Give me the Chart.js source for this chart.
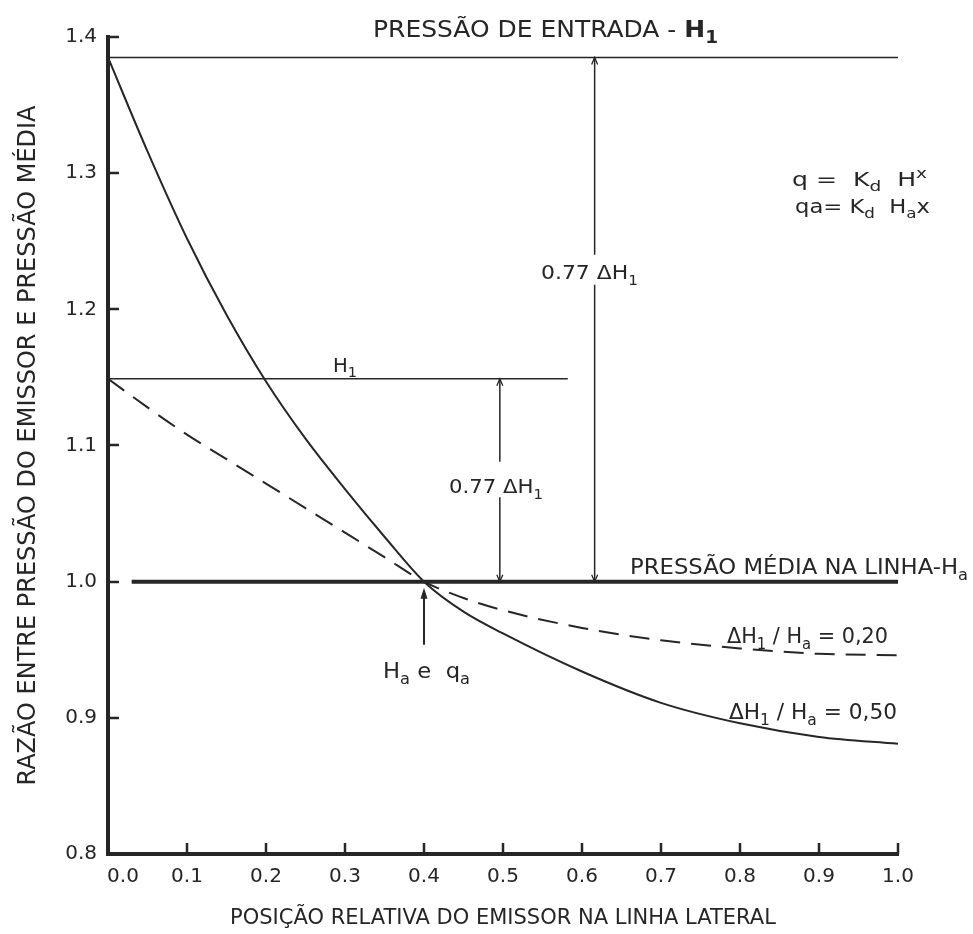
<!DOCTYPE html>
<html>
<head>
<meta charset="utf-8">
<title>Razão de pressão ao longo da linha lateral</title>
<script src="https://cdn.jsdelivr.net/npm/chart.js@4.4.1/dist/chart.umd.min.js"></script>
<style>
  html, body { margin: 0; padding: 0; background: #fff; }
  #wrap { width: 973px; height: 934px; }
</style>
</head>
<body>
<div id="wrap"><canvas id="chart" width="973" height="934"></canvas></div>
<script>
// relative position of the emitter along the lateral line
const positions = [0.0, 0.05, 0.1, 0.15, 0.2, 0.25, 0.3, 0.35, 0.4, 0.45, 0.5, 0.6, 0.7, 0.8, 0.9, 1.0];
// ratio emitter pressure / mean pressure
const ratioDH050 = [1.385, 1.316, 1.252, 1.196, 1.147, 1.105, 1.068, 1.033, 1.0, 0.978, 0.962, 0.934, 0.911, 0.896, 0.886, 0.881];
const ratioDH020 = [1.149, 1.128, 1.108, 1.090, 1.072, 1.054, 1.036, 1.018, 1.0, 0.988, 0.979, 0.966, 0.957, 0.951, 0.947, 0.946];

// reference lines
const inletX = [0.0, 1.0];      // pressão de entrada
const inletY = [1.385, 1.385];
const h1X = [0.0, 0.582];       // H1 for dH/Ha = 0.20
const h1Y = [1.149, 1.149];
const meanX = [0.03, 1.0];      // pressão média
const meanY = [1.0, 1.0];

// 0.77 dH1 dimension lines (null = gap for the label)
const dimBigX = [0.616, 0.616, 0.616, 0.616, 0.616];
const dimBigY = [1.385, 1.240, null, 1.218, 1.0];
const dimSmallX = [0.496, 0.496, 0.496, 0.496, 0.496];
const dimSmallY = [1.149, 1.088, null, 1.062, 1.0];

// axis ticks
const xTicks = [0.0, 0.1, 0.2, 0.3, 0.4, 0.5, 0.6, 0.7, 0.8, 0.9, 1.0];
const yTicks = [0.8, 0.9, 1.0, 1.1, 1.2, 1.3, 1.4];
const meanPointX = 0.4;

const INK = '#262626';
const FONT = "'DejaVu Sans', sans-serif";

function pts(xs, ys) {
    return xs.map((x, i) => ({ x: x, y: ys[i] }));
}

function lineSet(data, width, extra) {
    return Object.assign({
        data: data,
        borderColor: INK,
        borderWidth: width,
        pointRadius: 0,
        fill: false,
        tension: 0,
        spanGaps: false
    }, extra || {});
}

// draw a string made of normal / sub / sup parts, squeezed to a target width
function drawRich(ctx, segs, x, baseline, size, width) {
    const fontOf = (s) => (s.b ? 'bold ' : '') + Math.round((s.sub || s.sup) ? size * 0.72 : size) + 'px ' + FONT;
    let w = 0;
    segs.forEach(s => { ctx.font = fontOf(s); w += ctx.measureText(s.t).width; });
    const sx = width ? width / w : 1;
    ctx.save();
    ctx.translate(x, baseline);
    ctx.scale(sx, 1);
    ctx.fillStyle = INK;
    ctx.textAlign = 'left';
    ctx.textBaseline = 'alphabetic';
    let cx = 0;
    segs.forEach(s => {
        ctx.font = fontOf(s);
        let dy = 0;
        if (s.sub) dy = size * 0.28;
        if (s.sup) dy = -size * 0.42;
        ctx.fillText(s.t, cx, dy);
        cx += ctx.measureText(s.t).width;
    });
    ctx.restore();
}

const labels = [
    { segs: [{ t: 'PRESSÃO DE ENTRADA - ' }, { t: 'H', b: true }, { t: '1', sub: true, b: true }], x: 373, y: 37, size: 23, w: 345 },
    { segs: [{ t: '0.77 ΔH' }, { t: '1', sub: true }], x: 541, y: 279, size: 20, w: 97 },
    { segs: [{ t: '0.77 ΔH' }, { t: '1', sub: true }], x: 449, y: 493, size: 20, w: 94 },
    { segs: [{ t: 'H' }, { t: '1', sub: true }], x: 333, y: 372, size: 19, w: 24 },
    { segs: [{ t: 'PRESSÃO MÉDIA NA LINHA-H' }, { t: 'a', sub: true }], x: 630, y: 574, size: 21, w: 338 },
    { segs: [{ t: 'H' }, { t: 'a', sub: true }, { t: ' e  q' }, { t: 'a', sub: true }], x: 383, y: 678, size: 21, w: 87 },
    { segs: [{ t: 'ΔH' }, { t: '1', sub: true }, { t: ' / H' }, { t: 'a', sub: true }, { t: ' = 0,20' }], x: 727, y: 643, size: 21, w: 161 },
    { segs: [{ t: 'ΔH' }, { t: '1', sub: true }, { t: ' / H' }, { t: 'a', sub: true }, { t: ' = 0,50' }], x: 729, y: 719, size: 21, w: 168 },
    { segs: [{ t: 'q =  K' }, { t: 'd', sub: true }, { t: '  H' }, { t: 'x', sup: true }], x: 792, y: 186, size: 19, w: 135 },
    { segs: [{ t: 'qa= K' }, { t: 'd', sub: true }, { t: '  H' }, { t: 'a', sub: true }, { t: 'x' }], x: 795, y: 213, size: 19, w: 135 }
];

const annotations = {
    id: 'annotations',
    afterDatasetsDraw(chart) {
        const ctx = chart.ctx;
        const xs = chart.scales.x, ys = chart.scales.y;
        const area = chart.chartArea;
        ctx.save();
        ctx.strokeStyle = INK;
        ctx.fillStyle = INK;
        ctx.lineCap = 'butt';

        // inward tick marks
        ctx.lineWidth = 2.5;
        ys.ticks.forEach(t => {
            if (t.value <= ys.min + 1e-9) return;
            const y = Math.round(ys.getPixelForValue(t.value));
            ctx.beginPath();
            ctx.moveTo(area.left, y);
            ctx.lineTo(area.left + 11, y);
            ctx.stroke();
        });
        xs.ticks.forEach(t => {
            if (t.value <= xs.min + 1e-9) return;
            const x = Math.round(xs.getPixelForValue(t.value));
            ctx.beginPath();
            ctx.moveTo(x, area.bottom);
            ctx.lineTo(x, area.bottom - 11);
            ctx.stroke();
        });

        // arrow pointing at Ha e qa
        const ax = xs.getPixelForValue(meanPointX);
        const tip = ys.getPixelForValue(1.0) + 6;
        ctx.lineWidth = 2;
        ctx.beginPath();
        ctx.moveTo(ax, tip + 6);
        ctx.lineTo(ax, tip + 57);
        ctx.stroke();
        ctx.beginPath();
        ctx.moveTo(ax, tip);
        ctx.lineTo(ax - 3.5, tip + 11);
        ctx.lineTo(ax + 3.5, tip + 11);
        ctx.closePath();
        ctx.fill();

        // small arrow heads on the dimension lines
        ctx.lineWidth = 1.3;
        [[dimBigX[0], dimBigY[0], 1], [dimBigX[4], dimBigY[4], -1],
         [dimSmallX[0], dimSmallY[0], 1], [dimSmallX[4], dimSmallY[4], -1]].forEach(a => {
            const px = xs.getPixelForValue(a[0]);
            const py = ys.getPixelForValue(a[1]);
            ctx.beginPath();
            ctx.moveTo(px - 3, py + a[2] * 7);
            ctx.lineTo(px, py);
            ctx.lineTo(px + 3, py + a[2] * 7);
            ctx.stroke();
        });

        labels.forEach(l => drawRich(ctx, l.segs, l.x, l.y, l.size, l.w));
        ctx.restore();
    }
};

const chart = new Chart(document.getElementById('chart'), {
    type: 'line',
    data: {
        datasets: [
            lineSet(pts(positions, ratioDH050), 2, { cubicInterpolationMode: 'monotone' }),
            lineSet(pts(positions, ratioDH020), 2, { cubicInterpolationMode: 'monotone', borderDash: [20, 11] }),
            lineSet(pts(inletX, inletY), 1.6),
            lineSet(pts(h1X, h1Y), 1.6),
            lineSet(pts(meanX, meanY), 4),
            lineSet(pts(dimBigX, dimBigY), 1.5),
            lineSet(pts(dimSmallX, dimSmallY), 1.5)
        ]
    },
    options: {
        responsive: false,
        animation: false,
        devicePixelRatio: 1,
        clip: false,
        layout: { padding: { left: 0, top: 37, right: 75, bottom: 0 } },
        plugins: {
            legend: { display: false },
            tooltip: { enabled: false }
        },
        scales: {
            x: {
                type: 'linear',
                min: xTicks[0],
                max: xTicks[xTicks.length - 1],
                afterFit(scale) { scale.height = 80; },
                afterBuildTicks(scale) { scale.ticks = xTicks.map(v => ({ value: v })); },
                grid: { display: false, drawTicks: false },
                border: { display: true, width: 4, color: INK },
                ticks: {
                    autoSkip: false,
                    maxRotation: 0,
                    padding: 11,
                    color: INK,
                    font: { family: FONT, size: 20 },
                    callback: v => (v === 0 ? '\u2002\u2002\u2002' : '') + v.toFixed(1)
                },
                title: {
                    display: true,
                    text: 'POSIÇÃO RELATIVA DO EMISSOR NA LINHA LATERAL',
                    color: INK,
                    font: { family: FONT, size: 21 },
                    padding: { top: 0, bottom: 3 }
                }
            },
            y: {
                type: 'linear',
                min: yTicks[0],
                max: yTicks[yTicks.length - 1],
                afterFit(scale) { scale.width = 108; },
                afterBuildTicks(scale) { scale.ticks = yTicks.map(v => ({ value: v })); },
                grid: { display: false, drawTicks: false },
                border: { display: true, width: 4, color: INK },
                ticks: {
                    padding: 11,
                    color: INK,
                    font: { family: FONT, size: 20 },
                    callback: v => v.toFixed(1)
                },
                title: {
                    display: true,
                    text: 'RAZÃO ENTRE PRESSÃO DO EMISSOR E PRESSÃO MÉDIA',
                    color: INK,
                    font: { family: FONT, size: 24 },
                    padding: { top: 14, bottom: 0 }
                }
            }
        }
    },
    plugins: [annotations]
});
</script>
</body>
</html>
